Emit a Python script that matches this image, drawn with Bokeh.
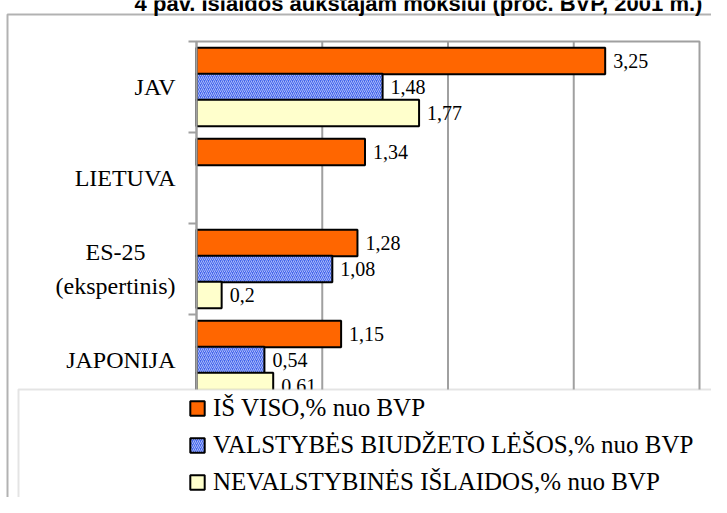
from bokeh.plotting import figure
from bokeh.models import (ColumnDataSource, FixedTicker, BoxAnnotation, Label,
                          Legend, LegendItem, Range1d)
from bokeh.embed import file_html
from bokeh.resources import INLINE
from bokeh.core.properties import value

# ---------------- data ----------------
title_text = "4 pav. Išlaidos aukštajam mokslui (proc. BVP, 2001 m.)"
categories = ["JAV", "LIETUVA", "ES-25\u00a0\u00a0\u00a0\u00a0\u00a0\n(ekspertinis)", "JAPONIJA"]
total = [3.25, 1.34, 1.28, 1.15]
state_budget = [1.48, None, 1.08, 0.54]
non_state = [1.77, None, 0.2, 0.61]
series_names = ["IŠ VISO,% nuo BVP",
                "VALSTYBĖS BIUDŽETO LĖŠOS,% nuo BVP",
                "NEVALSTYBINĖS IŠLAIDOS,% nuo BVP"]
grid_ticks = [1, 2, 3]
x_max = 4

# ---------------- layout (pixels) ----------------
W, H = 711, 497
PLOT_L, PLOT_R, PLOT_T = 196, 699, 41
CAT_PX = 91.0
n = len(categories)
X_PX = (PLOT_R - PLOT_L) / x_max
centers = [n - i - 0.5 for i in range(n)]
boundaries = [float(i) for i in range(n + 1)]
BAR_H = 0.29
OFF = 0.285

x0 = -PLOT_L / X_PX
x1 = (W - PLOT_L) / X_PX
y1 = n + PLOT_T / CAT_PX
y0 = n - (H - PLOT_T) / CAT_PX


def fmt(v):
    return ("%g" % v).replace(".", ",")


def make_src(vals, off):
    ys, xs, labs = [], [], []
    for c, v in zip(centers, vals):
        if v is None:
            continue
        ys.append(c + off)
        xs.append(v)
        labs.append(fmt(v))
    return ColumnDataSource(dict(y=ys, right=xs, label=labs))


p = figure(width=W, height=H, output_backend="svg", toolbar_location=None,
           x_range=Range1d(x0, x1), y_range=Range1d(y0, y1),
           x_axis_location=None,
           min_border_left=0, min_border_right=0, min_border_top=0,
           min_border_bottom=0)
p.background_fill_color = "white"
p.border_fill_color = "white"
p.outline_line_color = None
for g in p.grid:
    g.visible = False

GRAY = "#a0a0a0"
# vertical grid lines and plot-area border
p.segment(x0=grid_ticks, x1=grid_ticks, y0=[0] * len(grid_ticks), y1=[n] * len(grid_ticks),
          line_color=GRAY, line_width=2)
p.quad(left=[0], right=[x_max], bottom=[0], top=[n], fill_color=None,
       line_color=GRAY, line_width=2)

ax = p.yaxis[0]
ax.fixed_location = 0
ax.bounds = (0, n)
ax.ticker = FixedTicker(ticks=centers, minor_ticks=boundaries)
ax.major_label_overrides = {c: lab for c, lab in zip(centers, categories)}
ax.major_tick_out = 0
ax.major_tick_in = 0
ax.major_tick_line_color = None
ax.minor_tick_out = 8
ax.minor_tick_in = 0
ax.minor_tick_line_color = GRAY
ax.minor_tick_line_width = 2
ax.axis_line_color = GRAY
ax.axis_line_width = 2
ax.major_label_standoff = 13
ax.major_label_text_font = "Liberation Serif"
ax.major_label_text_font_size = "24px"
ax.major_label_text_color = "black"
ax.major_label_text_line_height = 1.33

fills = ["#FF6600", "#4466EE", "#FFFFCC"]
offsets = [OFF, 0.0, -OFF]
renderers = []
for vals, off, col, i in zip([total, state_budget, non_state], offsets, fills, range(3)):
    src = make_src(vals, off)
    kw = {}
    if i == 1:
        kw = dict(hatch_pattern="/", hatch_color="white", hatch_alpha=0.55,
                  hatch_scale=4, hatch_weight=1)
    r = p.hbar(y="y", right="right", left=0, height=BAR_H, source=src,
               fill_color=col, line_color="black", line_width=2, **kw)
    renderers.append(r)
    p.text(x="right", y="y", text="label", source=src, x_offset=8,
           text_baseline="middle", text_align="left",
           text_font=value("Liberation Serif"), text_font_size="20px",
           text_color="black")

# outer frame and legend box (screen units, origin bottom-left)
outer = BoxAnnotation(left=7, right=W + 40, top=H - 14, bottom=-40,
                      left_units="screen", right_units="screen",
                      top_units="screen", bottom_units="screen",
                      fill_alpha=0, line_color="black", line_width=2)
p.add_layout(outer)
legbox = BoxAnnotation(left=18, right=W + 40, top=H - 389, bottom=H - 511,
                       left_units="screen", right_units="screen",
                       top_units="screen", bottom_units="screen",
                       fill_color="white", fill_alpha=1,
                       line_color="#a6a6a6", line_width=2)
p.add_layout(legbox)

legend = Legend(items=[LegendItem(label=nm, renderers=[r]) for nm, r in zip(series_names, renderers)],
                location=(188, H - 496), orientation="vertical",
                padding=0, margin=0, spacing=9,
                glyph_width=18, glyph_height=18, label_height=28,
                label_standoff=7, border_line_color=None,
                background_fill_alpha=0,
                label_text_font="Liberation Serif", label_text_font_size="25px",
                label_text_color="black")
legend.level = "overlay"
p.add_layout(legend, "center")

title = Label(x=418, y=H - 3, x_units="screen", y_units="screen", text=title_text,
              text_font="Liberation Sans", text_font_style="bold",
              text_font_size="22px", text_align="center",
              text_baseline="alphabetic", text_color="black")
p.add_layout(title)

open("out.html", "w").write(file_html(p, INLINE))
